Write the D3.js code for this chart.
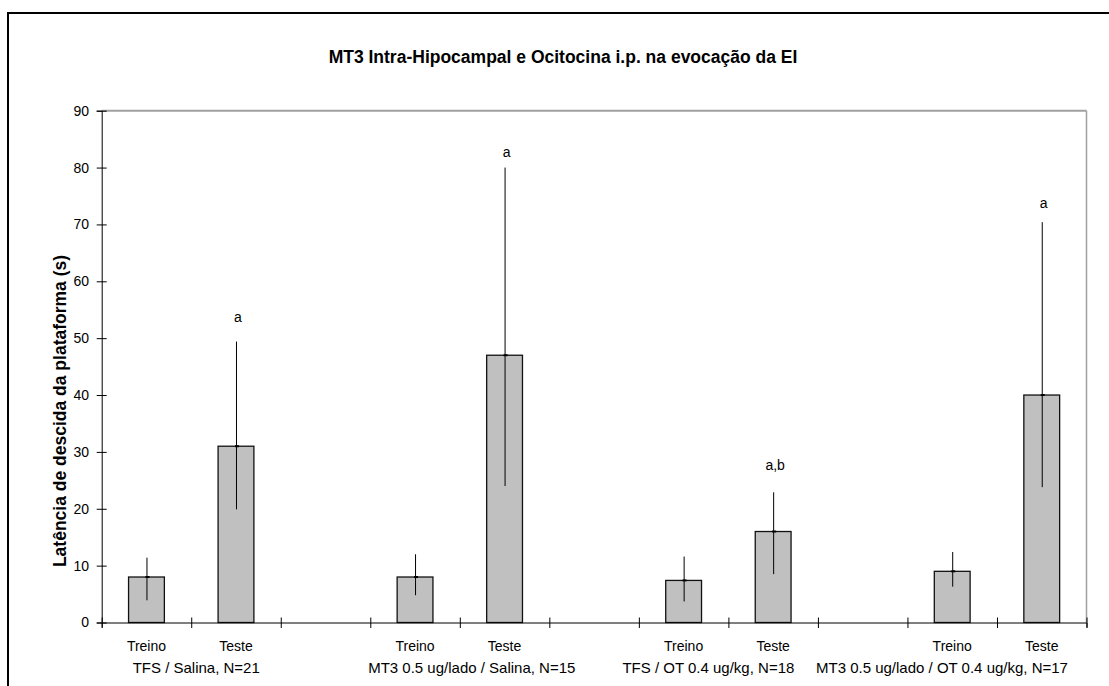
<!DOCTYPE html>
<html>
<head>
<meta charset="utf-8">
<script src="https://cdn.jsdelivr.net/npm/d3@7"></script>
<style>
  html, body { margin: 0; padding: 0; background: #fff; }
  svg { display: block; font-family: "Liberation Sans", Arial, sans-serif; }
</style>
</head>
<body>
<svg id="chart" width="1109" height="686"></svg>
<script>
// ---- data ----
const slotLabels = ["Treino", "Teste", "", "Treino", "Teste", "", "Treino", "Teste", "", "Treino", "Teste"];
const groupLabels = ["TFS / Salina, N=21", "MT3 0.5 ug/lado / Salina, N=15", "TFS / OT 0.4 ug/kg, N=18", "MT3 0.5 ug/lado / OT 0.4 ug/kg, N=17"];
const barSlots = [0, 1, 3, 4, 6, 7, 9, 10];
const means   = [8, 31, 8, 47, 7.4, 16, 9, 40];
const errLow  = [3.9, 19.9, 4.8, 24, 3.7, 8.5, 6.3, 23.8];
const errHigh = [11.4, 49.4, 12, 80, 11.6, 22.9, 12.4, 70.4];
const sigLabels = ["", "a", "", "a", "", "a,b", "", "a"];
const sigValues = [null, 53.7, null, 82.7, null, 27.7, null, 73.7];
const yTicks = [0, 10, 20, 30, 40, 50, 60, 70, 80, 90];
const title = "MT3 Intra-Hipocampal e Ocitocina i.p. na evocação da EI";
const yTitle = "Latência de descida da plataforma (s)";

(function () {
// ---- layout ----
const pL = 101.7, pR = 1086.5, pT = 110.7, pB = 622.5;
const svg = d3.select("#chart");

// outer border
svg.append("rect").attr("x", 8).attr("y", 13).attr("width", 1200).attr("height", 800)
  .attr("fill", "none").attr("stroke", "#000").attr("stroke-width", 2);

const y = d3.scaleLinear().domain([0, 90]).range([pB, pT]);
const xLin = d3.scaleLinear().domain([0, slotLabels.length]).range([pL, pR]);
const xBand = d3.scaleBand().domain(d3.range(slotLabels.length)).range([pL, pR])
  .paddingInner(0.6).paddingOuter(0.3);

// plot area border (top & right, gray)
svg.append("line").attr("x1", pL).attr("x2", pR).attr("y1", pT).attr("y2", pT)
  .attr("stroke", "#a0a0a0").attr("stroke-width", 2);
svg.append("line").attr("x1", pR).attr("x2", pR).attr("y1", pT).attr("y2", pB)
  .attr("stroke", "#a0a0a0").attr("stroke-width", 1.5);

// title
svg.append("text").attr("x", 563).attr("y", 63).attr("text-anchor", "middle")
  .attr("font-size", 17.5).attr("font-weight", "bold").text(title);

// y axis
const yAxis = svg.append("g").attr("transform", `translate(${pL},0)`)
  .call(d3.axisLeft(y).tickValues(yTicks).tickSize(5).tickPadding(7.7));
yAxis.select(".domain").attr("stroke", "#000");
yAxis.selectAll(".tick line").attr("x1", 5).attr("x2", -5).attr("stroke", "#000");
yAxis.selectAll(".tick text").attr("font-size", 14).attr("fill", "#000")
  .attr("font-family", "Liberation Sans, Arial, sans-serif");

// y title
svg.append("text")
  .attr("transform", `translate(66,411) rotate(-90)`)
  .attr("text-anchor", "middle").attr("font-size", 17.5).attr("font-weight", "bold")
  .text(yTitle);

// bars
const bars = barSlots.map((s, i) => ({ slot: s, mean: means[i], lo: errLow[i], hi: errHigh[i], sig: sigLabels[i], sigV: sigValues[i] }));
const gBars = svg.append("g");
gBars.selectAll("rect.bar").data(bars).join("rect").attr("class", "bar")
  .attr("x", d => xBand(d.slot)).attr("width", xBand.bandwidth())
  .attr("y", d => y(d.mean)).attr("height", d => y(0) - y(d.mean))
  .attr("fill", "#c0c0c0").attr("stroke", "#111").attr("stroke-width", 1.3);

// error bars
gBars.selectAll("line.err").data(bars).join("line").attr("class", "err")
  .attr("x1", d => xBand(d.slot) + xBand.bandwidth() / 2 + 0.5)
  .attr("x2", d => xBand(d.slot) + xBand.bandwidth() / 2 + 0.5)
  .attr("y1", d => y(d.hi)).attr("y2", d => y(d.lo))
  .attr("stroke", "#000").attr("stroke-width", 1);
gBars.selectAll("rect.mk").data(bars).join("rect").attr("class", "mk")
  .attr("x", d => xBand(d.slot) + xBand.bandwidth() / 2 - 1)
  .attr("y", d => y(d.mean) - 1).attr("width", 4).attr("height", 2).attr("fill", "#000");

// significance labels
gBars.selectAll("text.sig").data(bars.filter(d => d.sig)).join("text").attr("class", "sig")
  .attr("x", d => xBand(d.slot) + xBand.bandwidth() / 2 + 2)
  .attr("y", d => y(d.sigV) + 5)
  .attr("text-anchor", "middle").attr("font-size", 14).text(d => d.sig);

// x axis
const xAxis = svg.append("g").attr("transform", `translate(0,${pB})`)
  .call(d3.axisBottom(xLin).tickValues(d3.range(slotLabels.length + 1)).tickFormat("").tickSize(5));
xAxis.select(".domain").attr("stroke", "#000");
xAxis.selectAll(".tick line").attr("y1", -5).attr("y2", 5.5).attr("stroke", "#000");

// category labels
svg.append("g").selectAll("text").data(slotLabels.map((t, i) => ({ t, i })).filter(d => d.t)).join("text")
  .attr("x", d => xBand(d.i) + xBand.bandwidth() / 2)
  .attr("y", 650.5).attr("text-anchor", "middle").attr("font-size", 14).text(d => d.t);

// group labels (Excel nudged them to avoid overlap)
const groupNudge = [5, 12, -20, -55];
svg.append("g").selectAll("text").data(groupLabels).join("text")
  .attr("x", (d, i) => xLin(i * 3 + 1) + groupNudge[i])
  .attr("y", 673).attr("text-anchor", "middle").attr("font-size", 15).text(d => d);
})();
</script>
</body>
</html>
